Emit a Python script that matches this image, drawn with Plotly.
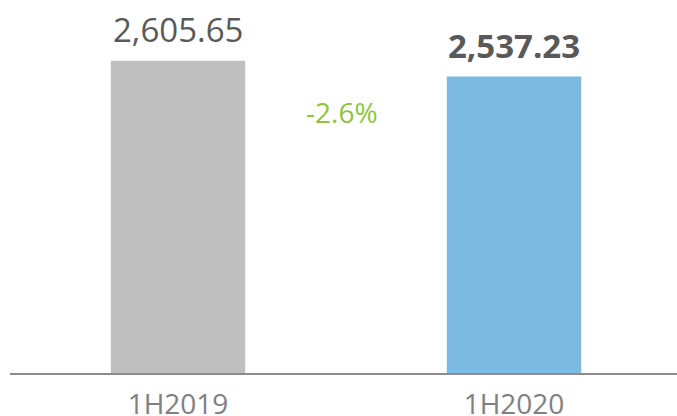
import plotly.graph_objects as go

categories = ["1H2019", "1H2020"]
values = [2605.65, 2537.23]
bar_colors = ["#BFBFBF", "#7CBAE2"]
change_label = "-2.6%"
y_base = 1250
y_top = 2870

fig = go.Figure()
fig.add_trace(go.Bar(
    x=categories, y=values, marker=dict(color=bar_colors, line=dict(width=0)),
    width=0.4, hoverinfo="skip",
))

label_fmt = ["{:,.2f}", "<b>{:,.2f}</b>"]
for c, v, f in zip(categories, values, label_fmt):
    fig.add_annotation(
        x=c, y=v, xref="x", yref="y", text=f.format(v), showarrow=False,
        yanchor="bottom", yshift=7,
        font=dict(family="Open Sans", size=33, color="#595959"),
    )

fig.add_annotation(
    x=0.4985, y=0.70, xref="paper", yref="paper", text=change_label,
    showarrow=False, xanchor="center", yanchor="middle",
    font=dict(family="Open Sans", size=28, color="#8DC43F"),
)

fig.update_layout(
    width=677, height=416,
    margin=dict(l=10, r=0, t=0, b=43, autoexpand=False),
    paper_bgcolor="white", plot_bgcolor="white",
    showlegend=False,
    xaxis=dict(
        type="category", range=[-0.5, 1.485], automargin=False,
        showline=True, linecolor="#8C8C8C", linewidth=2,
        showgrid=False, ticks="",
        tickfont=dict(family="Open Sans", size=28, color="#808080"),
        ticklabelstandoff=5,
    ),
    yaxis=dict(range=[y_base, y_top], visible=False, showgrid=False),
)

fig.write_html(
    "out.html",
    config={"displayModeBar": False, "staticPlot": True},
    post_script="document.body.style.margin='0';document.body.style.overflow='hidden';",
)
